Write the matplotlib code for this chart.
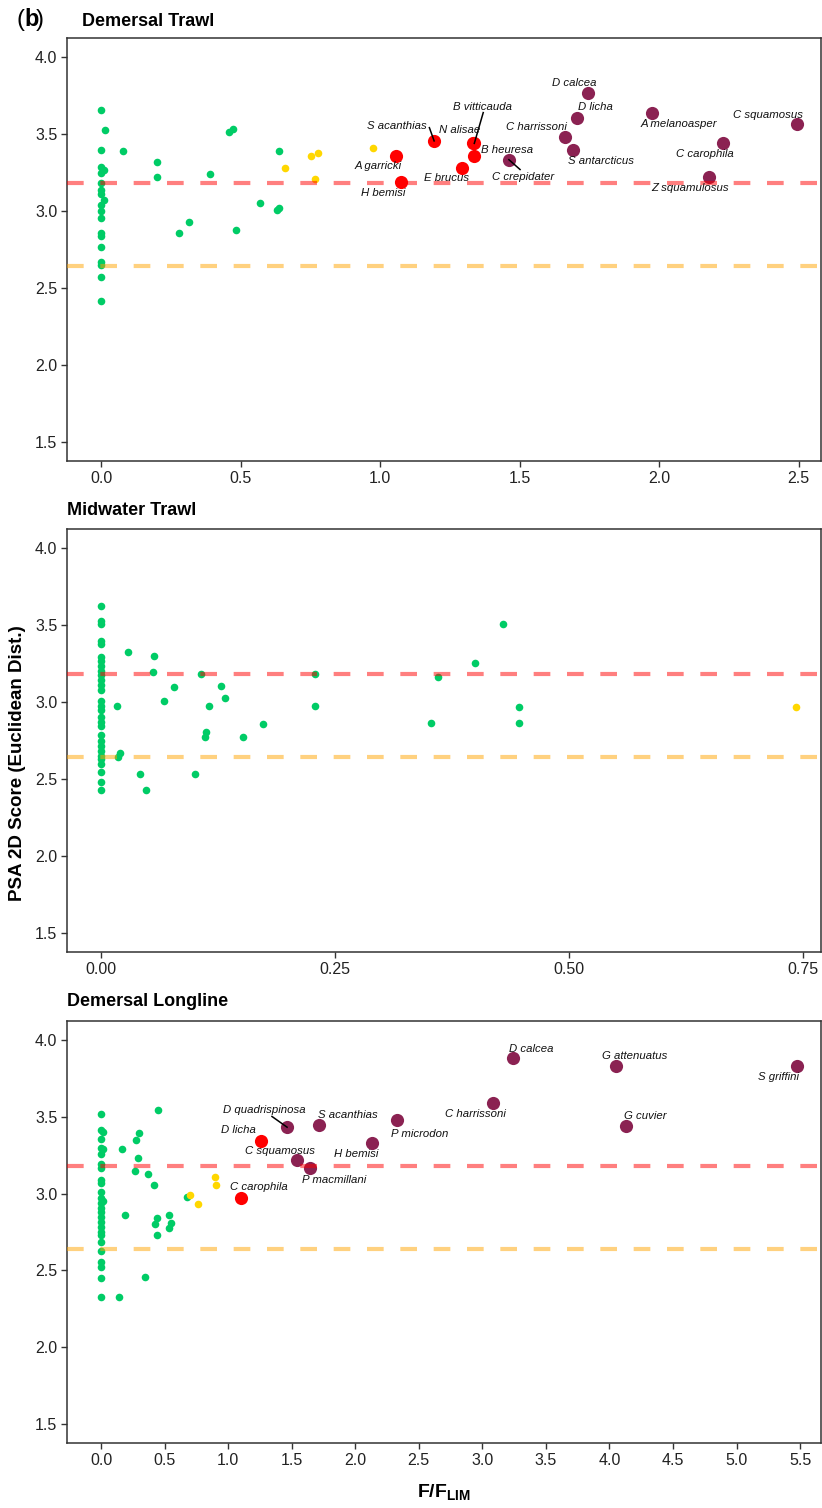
import matplotlib
matplotlib.use("Agg")
import matplotlib.pyplot as plt
import numpy as np

plt.rcParams['font.family'] = ['Liberation Sans', 'DejaVu Sans']
plt.rcParams['mathtext.fontset'] = 'custom'
plt.rcParams['mathtext.rm'] = 'Liberation Sans'
plt.rcParams['mathtext.bf'] = 'Liberation Sans:bold'

# ---------------- data ----------------
RED_LINE = 3.18
ORANGE_LINE = 2.64

# Demersal Trawl
dt_green_f = [0, 0.013, 0, 0, 0.012, 0, 0, 0, 0, 0.012, 0, 0, 0, 0, 0, 0, 0, 0, 0, 0,
              0.078, 0.20, 0.20, 0.28, 0.317, 0.39, 0.46, 0.474, 0.485, 0.571, 0.63, 0.639, 0.639]
dt_green_y = [3.655, 3.53, 3.40, 3.286, 3.265, 3.245, 3.18, 3.14, 3.11, 3.07, 3.04, 3.00, 2.957,
              2.86, 2.84, 2.766, 2.67, 2.646, 2.57, 2.414,
              3.39, 3.32, 3.22, 2.857, 2.93, 3.24, 3.516, 3.534, 2.88, 3.05, 3.01, 3.02, 3.39]
dt_yellow_f = [0.66, 0.753, 0.777, 0.766, 0.974]
dt_yellow_y = [3.28, 3.36, 3.38, 3.21, 3.41]
dt_red_names = ['A garricki', 'H bemisi', 'S acanthias', 'N alisae', 'B vitticauda', 'B heuresa', 'E brucus']
dt_red_f = [1.057, 1.076, 1.194, 1.333, 1.338, 1.338, 1.294]
dt_red_y = [3.36, 3.19, 3.456, 3.445, 3.44, 3.36, 3.28]
dt_purple_names = ['C crepidater', 'D calcea', 'D licha', 'C harrissoni', 'S antarcticus',
                   'A melanoasper', 'C squamosus', 'C carophila', 'Z squamulosus']
dt_purple_f = [1.462, 1.744, 1.705, 1.664, 1.692, 1.974, 2.495, 2.229, 2.178]
dt_purple_y = [3.334, 3.766, 3.605, 3.484, 3.395, 3.636, 3.564, 3.443, 3.22]

# Midwater Trawl
mw_green_f = [0] * 29 + [0.017, 0.0185, 0.0206, 0.029, 0.042, 0.048, 0.057, 0.056, 0.067, 0.078,
                         0.100, 0.107, 0.115, 0.1125, 0.111, 0.1286, 0.133, 0.152, 0.1727, 0.2286,
                         0.2286, 0.3597, 0.3526, 0.3996, 0.4295, 0.4462, 0.4462]
mw_green_y = [3.626, 3.527, 3.508, 3.398, 3.376, 3.29, 3.265, 3.232, 3.2, 3.174, 3.146, 3.11, 3.077,
              3.006, 2.974, 2.948, 2.90, 2.873, 2.845, 2.787, 2.748, 2.716, 2.684, 2.652, 2.63,
              2.594, 2.544, 2.48, 2.426,
              2.976, 2.645, 2.667, 3.327, 2.535, 2.425, 3.297, 3.194, 3.006, 3.097,
              2.535, 3.185, 2.976, 2.806, 2.774, 3.105, 3.026, 2.774, 2.856, 3.185,
              2.976, 3.163, 2.864, 3.256, 3.505, 2.966, 2.864]
mw_yellow_f = [0.743]
mw_yellow_y = [2.966]

# Demersal Longline
dl_green_f = [0] * 25 + [0.018, 0.018, 0.018,
                         0.446, 0.165, 0.273, 0.301, 0.291, 0.27, 0.37, 0.417, 0.191, 0.443,
                         0.425, 0.443, 0.535, 0.551, 0.535, 0.674, 0.346, 0.142]
dl_green_y = [3.521, 3.412, 3.357, 3.297, 3.26, 3.19, 3.166, 3.09, 3.068, 3.013, 2.97, 2.937,
              2.905, 2.878, 2.85, 2.817, 2.784, 2.75, 2.73, 2.686, 2.627, 2.556, 2.523, 2.447, 2.327,
              3.40, 3.29, 2.952,
              3.543, 3.292, 3.351, 3.392, 3.231, 3.148, 3.129, 3.059, 2.859, 2.839,
              2.80, 2.728, 2.859, 2.808, 2.778, 2.978, 2.458, 2.327]
dl_yellow_f = [0.70, 0.766, 0.894, 0.902]
dl_yellow_y = [2.99, 2.93, 3.109, 3.059]
dl_red_names = ['D licha', 'C carophila']
dl_red_f = [1.257, 1.10]
dl_red_y = [3.342, 2.97]
dl_purple_names = ['D quadrispinosa', 'S acanthias', 'C squamosus', 'P macmillani', 'H bemisi',
                   'P microdon', 'C harrissoni', 'D calcea', 'G attenuatus', 'G cuvier', 'S griffini']
dl_purple_f = [1.464, 1.712, 1.545, 1.641, 2.13, 2.328, 3.084, 3.24, 4.049, 4.127, 5.476]
dl_purple_y = [3.433, 3.45, 3.222, 3.165, 3.331, 3.483, 3.591, 3.881, 3.831, 3.44, 3.831]

# ---------------- label layout (text centres, data coords) ----------------
dt_label_pos = {
    'A garricki': (0.994, 3.29), 'H bemisi': (1.012, 3.115), 'S acanthias': (1.06, 3.553),
    'N alisae': (1.284, 3.527), 'B vitticauda': (1.368, 3.677), 'B heuresa': (1.456, 3.395),
    'E brucus': (1.239, 3.215), 'C crepidater': (1.514, 3.22), 'D calcea': (1.697, 3.83),
    'D licha': (1.771, 3.677), 'C harrissoni': (1.56, 3.547), 'S antarcticus': (1.792, 3.326),
    'A melanoasper': (2.07, 3.566), 'C squamosus': (2.39, 3.625), 'C carophila': (2.165, 3.37),
    'Z squamulosus': (2.11, 3.15),
}
dt_segments = {'S acanthias': (1.177, 3.542), 'B vitticauda': (1.370, 3.64), 'C crepidater': (1.502, 3.27)}
dl_label_pos = {
    'D calcea': (3.386, 3.94), 'G attenuatus': (4.2, 3.896), 'S griffini': (5.33, 3.758),
    'C harrissoni': (2.947, 3.52), 'G cuvier': (4.279, 3.506), 'P microdon': (2.511, 3.388),
    'H bemisi': (2.011, 3.258), 'S acanthias': (1.946, 3.511), 'D quadrispinosa': (1.283, 3.543),
    'D licha': (1.084, 3.416), 'C squamosus': (1.408, 3.279), 'P macmillani': (1.837, 3.09),
    'C carophila': (1.246, 3.04),
}
dl_segments = {'D quadrispinosa': (1.345, 3.503)}

# ---------------- style ----------------
GREEN = '#00CC66'
YELLOW = '#FFD700'
RED = '#FF0000'
PURPLE = '#8B2252'
AX_COL = '#333333'
S_SMALL = 30
S_BIG = 90

W, H = 822, 1508
fig = plt.figure(figsize=(W / 100, H / 100), dpi=100)

def ax_rect(top_px, bot_px, left_px=67, right_px=821):
    return [left_px / W, 1 - bot_px / H, (right_px - left_px) / W, (bot_px - top_px) / H]

def style_axes(ax, xlim, xticks, xfmt):
    ax.set_xlim(*xlim)
    ax.set_ylim(1.375, 4.125)
    ax.set_yticks(np.arange(1.5, 4.01, 0.5))
    ax.set_yticklabels([f'{v:.1f}' for v in np.arange(1.5, 4.01, 0.5)])
    ax.set_xticks(xticks)
    ax.set_xticklabels([xfmt.format(v) for v in xticks])
    for sp in ax.spines.values():
        sp.set_color(AX_COL)
        sp.set_linewidth(1.1)
    ax.tick_params(colors=AX_COL, labelcolor='#222222', labelsize=11.5, length=4, width=1.0,
                   direction='out', pad=3)

def add_lines(ax):
    ax.axhline(RED_LINE, color='red', alpha=0.5, lw=3.0, dashes=(4.0, 4.0),
               dash_capstyle='butt', zorder=5)
    ax.axhline(ORANGE_LINE, color='orange', alpha=0.5, lw=3.0, dashes=(4.0, 4.0),
               dash_capstyle='butt', zorder=5)

def add_labels(ax, names, fs, ys, pos, segs):
    for n, x, y in zip(names, fs, ys):
        if n in pos:
            tx, ty = pos[n]
            ax.text(tx, ty, n, ha='center', va='center', fontsize=8.2, style='italic',
                    color='#111111', zorder=7)
            if n in segs:
                sx, sy = segs[n]
                ax.plot([sx, x], [sy, y], color='black', lw=1.1, zorder=6)

# ---- Demersal Trawl ----
ax1 = fig.add_axes(ax_rect(38, 461))
ax1.scatter(dt_green_f, dt_green_y, s=S_SMALL, color=GREEN, lw=0, zorder=3)
ax1.scatter(dt_yellow_f, dt_yellow_y, s=S_SMALL, color=YELLOW, lw=0, zorder=3)
ax1.scatter(dt_red_f, dt_red_y, s=S_BIG, color=RED, lw=0, zorder=3)
ax1.scatter(dt_purple_f, dt_purple_y, s=S_BIG, color=PURPLE, lw=0, zorder=3)
add_lines(ax1)
add_labels(ax1, dt_red_names, dt_red_f, dt_red_y, dt_label_pos, dt_segments)
add_labels(ax1, dt_purple_names, dt_purple_f, dt_purple_y, dt_label_pos, dt_segments)
style_axes(ax1, ((67 - 101) / 279.0, (821 - 101) / 279.0), [0, 0.5, 1.0, 1.5, 2.0, 2.5], '{:.1f}')

# ---- Midwater Trawl ----
ax2 = fig.add_axes(ax_rect(529, 952))
ax2.scatter(mw_green_f, mw_green_y, s=S_SMALL, color=GREEN, lw=0, zorder=3)
ax2.scatter(mw_yellow_f, mw_yellow_y, s=S_SMALL, color=YELLOW, lw=0, zorder=3)
add_lines(ax2)
style_axes(ax2, ((67 - 101) / 936.0, (821 - 101) / 936.0), [0, 0.25, 0.5, 0.75], '{:.2f}')

# ---- Demersal Longline ----
ax3 = fig.add_axes(ax_rect(1021, 1443))
ax3.scatter(dl_green_f, dl_green_y, s=S_SMALL, color=GREEN, lw=0, zorder=3)
ax3.scatter(dl_yellow_f, dl_yellow_y, s=S_SMALL, color=YELLOW, lw=0, zorder=3)
ax3.scatter(dl_red_f, dl_red_y, s=S_BIG, color=RED, lw=0, zorder=3)
ax3.scatter(dl_purple_f, dl_purple_y, s=S_BIG, color=PURPLE, lw=0, zorder=3)
add_lines(ax3)
add_labels(ax3, dl_red_names, dl_red_f, dl_red_y, dl_label_pos, dl_segments)
add_labels(ax3, dl_purple_names, dl_purple_f, dl_purple_y, dl_label_pos, dl_segments)
style_axes(ax3, ((67 - 101) / 127.1, (821 - 101) / 127.1), list(np.arange(0, 5.51, 0.5)), '{:.1f}')

# ---- titles and labels ----
fig.text(82 / W, 1 - 21 / H, 'Demersal Trawl', fontsize=13, fontweight='bold', va='center', ha='left')
fig.text(67 / W, 1 - 510 / H, 'Midwater Trawl', fontsize=13, fontweight='bold', va='center', ha='left')
fig.text(67 / W, 1 - 1001 / H, 'Demersal Longline', fontsize=13, fontweight='bold', va='center', ha='left')
fig.text(17 / W, 1 - 20 / H, '(', fontsize=17, va='center', ha='left')
fig.text(24 / W, 1 - 20 / H, 'b', fontsize=17, fontweight='bold', va='center', ha='left')
fig.text(36 / W, 1 - 20 / H, ')', fontsize=17, va='center', ha='left')
fig.text(18 / W, 1 - 763 / H, 'PSA 2D Score (Euclidean Dist.)', rotation=90, fontsize=13.5,
         fontweight='bold', va='center', ha='center')
fig.text(444 / W, 1 - 1492 / H, r'$\mathbf{F/F_{LIM}}$', fontsize=14, va='center', ha='center')

fig.savefig('out.png', dpi=100)
